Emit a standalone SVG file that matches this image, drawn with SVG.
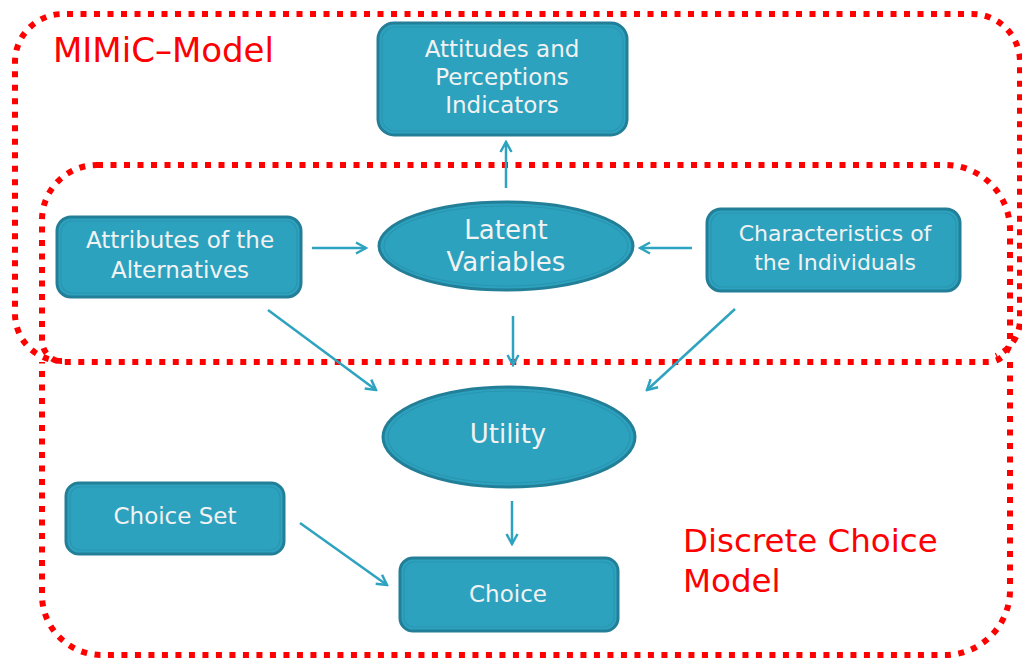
<svg xmlns="http://www.w3.org/2000/svg" width="1022" height="658" viewBox="0 0 1022 658">
<style>
.region{fill:none;stroke:#FF0000;stroke-width:6;stroke-dasharray:6 7.5}
.box{fill:#2CA2BF;stroke:#237F97;stroke-width:3}
.inner{fill:none;stroke:#2A95B0;stroke-width:1.2}
.t{font-family:"DejaVu Sans",Verdana,sans-serif;fill:#F2F2F2;text-anchor:middle}
.lbl{font-family:"DejaVu Sans",Verdana,sans-serif;fill:#FF0000}
.conn{fill:none;stroke:#2EA3C0;stroke-width:2.5;marker-end:url(#ah)}
</style>
<defs>
<marker id="ah" viewBox="0 0 14 14" refX="12" refY="7" markerWidth="14" markerHeight="14" markerUnits="userSpaceOnUse" orient="auto">
<path d="M2,1.5 L12,7 L2,12.5" fill="none" stroke="#2EA3C0" stroke-width="2.5"/>
</marker>
</defs>
<rect width="1022" height="658" fill="#FFFFFF"/>
<g id="regions">
<path id="mimic-region" class="region" d="M62,361 A47,47 0 0 1 15,314 V62 A48,48 0 0 1 63,14 H972 A48,48 0 0 1 1020,62 V318 A40,40 0 0 1 996,356"/>
<path id="latent-region" class="region" d="M97,165 H945 A65,65 0 0 1 1010,230 V340 A22,22 0 0 1 988,362 H64 A22,22 0 0 1 42,340 V220 A55,55 0 0 1 97,165 Z"/>
<path id="dcm-region" class="region" d="M1010,362 V590 A65,65 0 0 1 945,655 H102 A60,60 0 0 1 42,595 V362"/>
<text class="lbl" x="53" y="62" font-size="34">MIMiC–Model</text>
<text class="lbl" x="683" y="552" font-size="32.5">Discrete Choice</text>
<text class="lbl" x="683" y="592" font-size="32.5">Model</text>
</g>
<g id="connectors">
<line class="conn" x1="506" y1="188" x2="506" y2="142"/>
<line class="conn" x1="312" y1="248" x2="366" y2="248"/>
<line class="conn" x1="692" y1="248" x2="640" y2="248"/>
<line class="conn" x1="513" y1="316" x2="513" y2="365"/>
<line class="conn" x1="268" y1="310" x2="376" y2="390"/>
<line class="conn" x1="735" y1="309" x2="647" y2="390"/>
<line class="conn" x1="512" y1="501" x2="512" y2="544"/>
<line class="conn" x1="300" y1="523" x2="387" y2="585"/>
</g>
<g id="attitudes">
<rect class="box" x="378" y="23" width="249" height="112" rx="16"/>
<rect class="inner" x="382" y="27" width="241" height="104" rx="13"/>
<text class="t" font-size="23" x="502" y="57">Attitudes and</text>
<text class="t" font-size="23" x="502" y="85">Perceptions</text>
<text class="t" font-size="23" x="502" y="113">Indicators</text>
</g>
<g id="latent">
<ellipse class="box" cx="506" cy="246" rx="127" ry="44"/>
<ellipse class="inner" cx="506" cy="246" rx="122" ry="40"/>
<text class="t" font-size="26" x="506" y="239">Latent</text>
<text class="t" font-size="26" x="506" y="271">Variables</text>
</g>
<g id="attributes">
<rect class="box" x="57" y="217" width="244" height="80" rx="14"/>
<rect class="inner" x="61" y="221" width="236" height="72" rx="11"/>
<text class="t" font-size="23" x="180" y="248">Attributes of the</text>
<text class="t" font-size="23" x="180" y="278">Alternatives</text>
</g>
<g id="characteristics">
<rect class="box" x="707" y="209" width="253" height="82" rx="14"/>
<rect class="inner" x="711" y="213" width="245" height="74" rx="11"/>
<text class="t" font-size="22" x="835" y="241">Characteristics of</text>
<text class="t" font-size="22" x="835" y="270">the Individuals</text>
</g>
<g id="utility">
<ellipse class="box" cx="509" cy="437" rx="126" ry="50"/>
<ellipse class="inner" cx="509" cy="437" rx="121" ry="46"/>
<text class="t" font-size="26" x="508" y="443">Utility</text>
</g>
<g id="choiceset">
<rect class="box" x="66" y="483" width="218" height="71" rx="13"/>
<rect class="inner" x="70" y="487" width="210" height="63" rx="10"/>
<text class="t" font-size="23" x="175" y="524">Choice Set</text>
</g>
<g id="choice">
<rect class="box" x="400" y="558" width="218" height="73" rx="13"/>
<rect class="inner" x="404" y="562" width="210" height="65" rx="10"/>
<text class="t" font-size="23" x="508" y="602">Choice</text>
</g>
</svg>
